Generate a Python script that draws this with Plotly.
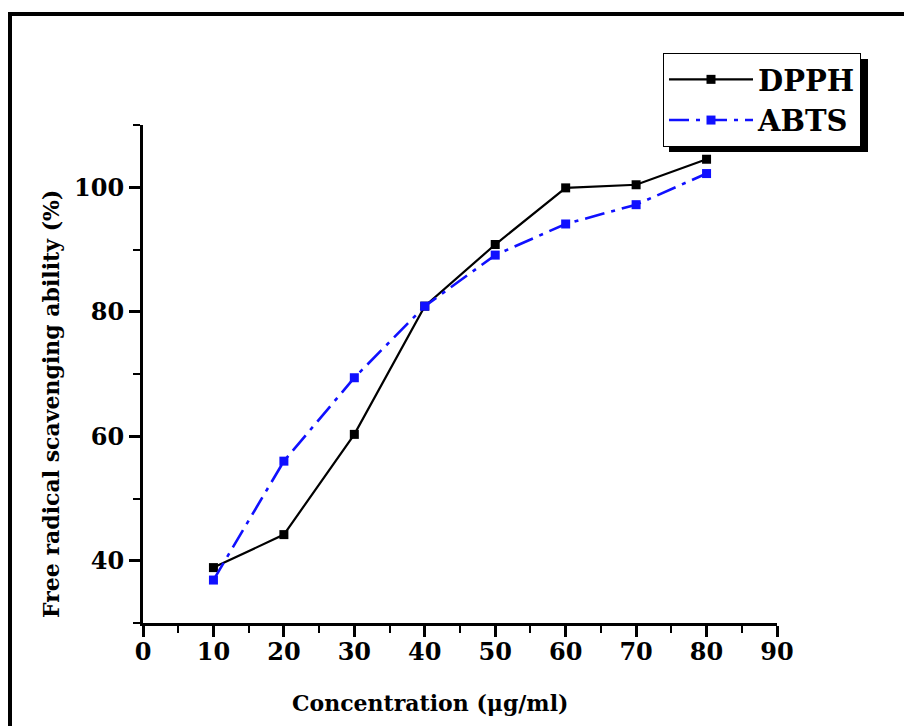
import plotly.graph_objects as go

concentration = [10, 20, 30, 40, 50, 60, 70, 80]
dpph = [38.9, 44.2, 60.3, 80.9, 90.8, 99.9, 100.4, 104.5]
abts = [36.9, 56.0, 69.4, 80.9, 89.1, 94.1, 97.2, 102.2]

x_title = "Concentration (μg/ml)"
y_title = "Free radical scavenging ability (%)"

W, H = 904, 726
L, R, T, B = 143, 127, 125, 103
pw, ph = W - L - R, H - T - B


def px_x(px):
    return (px - L) / pw


def px_y(py):
    return (H - B - py) / ph


fig = go.Figure()
fig.add_trace(go.Scatter(
    x=concentration, y=dpph, name="DPPH", mode="lines+markers",
    line=dict(color="black", width=2.2),
    marker=dict(symbol="square", size=9, color="black"),
))
fig.add_trace(go.Scatter(
    x=concentration, y=abts, name="ABTS", mode="lines+markers",
    line=dict(color="#1010ff", width=2.6, dash="20px,7px,4px,7px"),
    marker=dict(symbol="square", size=9, color="#1010ff"),
))

serif = "DejaVu Serif"
axis_common = dict(
    showline=True, linecolor="black", linewidth=3,
    ticks="outside", ticklen=11, tickwidth=2.5, tickcolor="black",
    showgrid=False, zeroline=False,
    tickfont=dict(family=serif, size=24, color="black", weight="bold"),
)

fig.update_xaxes(
    range=[0, 90], tick0=0, dtick=10, ticklabelstandoff=-6,
    minor=dict(ticks="outside", ticklen=7, tickwidth=2, dtick=5, tickcolor="black"),
    **axis_common,
)
fig.update_yaxes(
    range=[30, 110], tick0=0, dtick=20,
    minor=dict(ticks="outside", ticklen=7, tickwidth=2, dtick=10, tickcolor="black"),
    **axis_common,
)

fig.add_annotation(
    text=x_title, xref="paper", yref="paper",
    x=px_x(430), y=px_y(703), xanchor="center", yanchor="middle",
    showarrow=False,
    font=dict(family=serif, size=22, color="black", weight="bold"),
)
fig.add_annotation(
    text=y_title, xref="paper", yref="paper",
    x=px_x(51), y=px_y(404), xanchor="center", yanchor="middle",
    textangle=-90, showarrow=False,
    font=dict(family=serif, size=22, color="black", weight="bold"),
)

shapes = [
    # legend drop shadow
    dict(type="rect", xref="paper", yref="paper",
         x0=px_x(669), x1=px_x(868), y0=px_y(152), y1=px_y(59),
         fillcolor="black", line=dict(width=0), layer="below"),
    # outer frame (left and top)
    dict(type="line", xref="paper", yref="paper",
         x0=px_x(10), x1=px_x(10), y0=px_y(14), y1=px_y(730),
         line=dict(color="black", width=4)),
    dict(type="line", xref="paper", yref="paper",
         x0=px_x(8), x1=px_x(910), y0=px_y(14), y1=px_y(14),
         line=dict(color="black", width=4)),
]

fig.update_layout(
    width=W, height=H,
    margin=dict(l=L, r=R, t=T, b=B, autoexpand=False),
    paper_bgcolor="white", plot_bgcolor="white",
    showlegend=True,
    legend=dict(
        xref="container", yref="container",
        x=663 / W, y=1 - 53 / H, xanchor="left", yanchor="top",
        bgcolor="white", bordercolor="black", borderwidth=1,
        font=dict(family=serif, size=29, color="black", weight="bold"),
        itemwidth=84, tracegroupgap=0,
    ),
    shapes=shapes,
)

fig.write_html("out.html", config={"displayModeBar": False},
               post_script="document.body.style.margin='0px';")
